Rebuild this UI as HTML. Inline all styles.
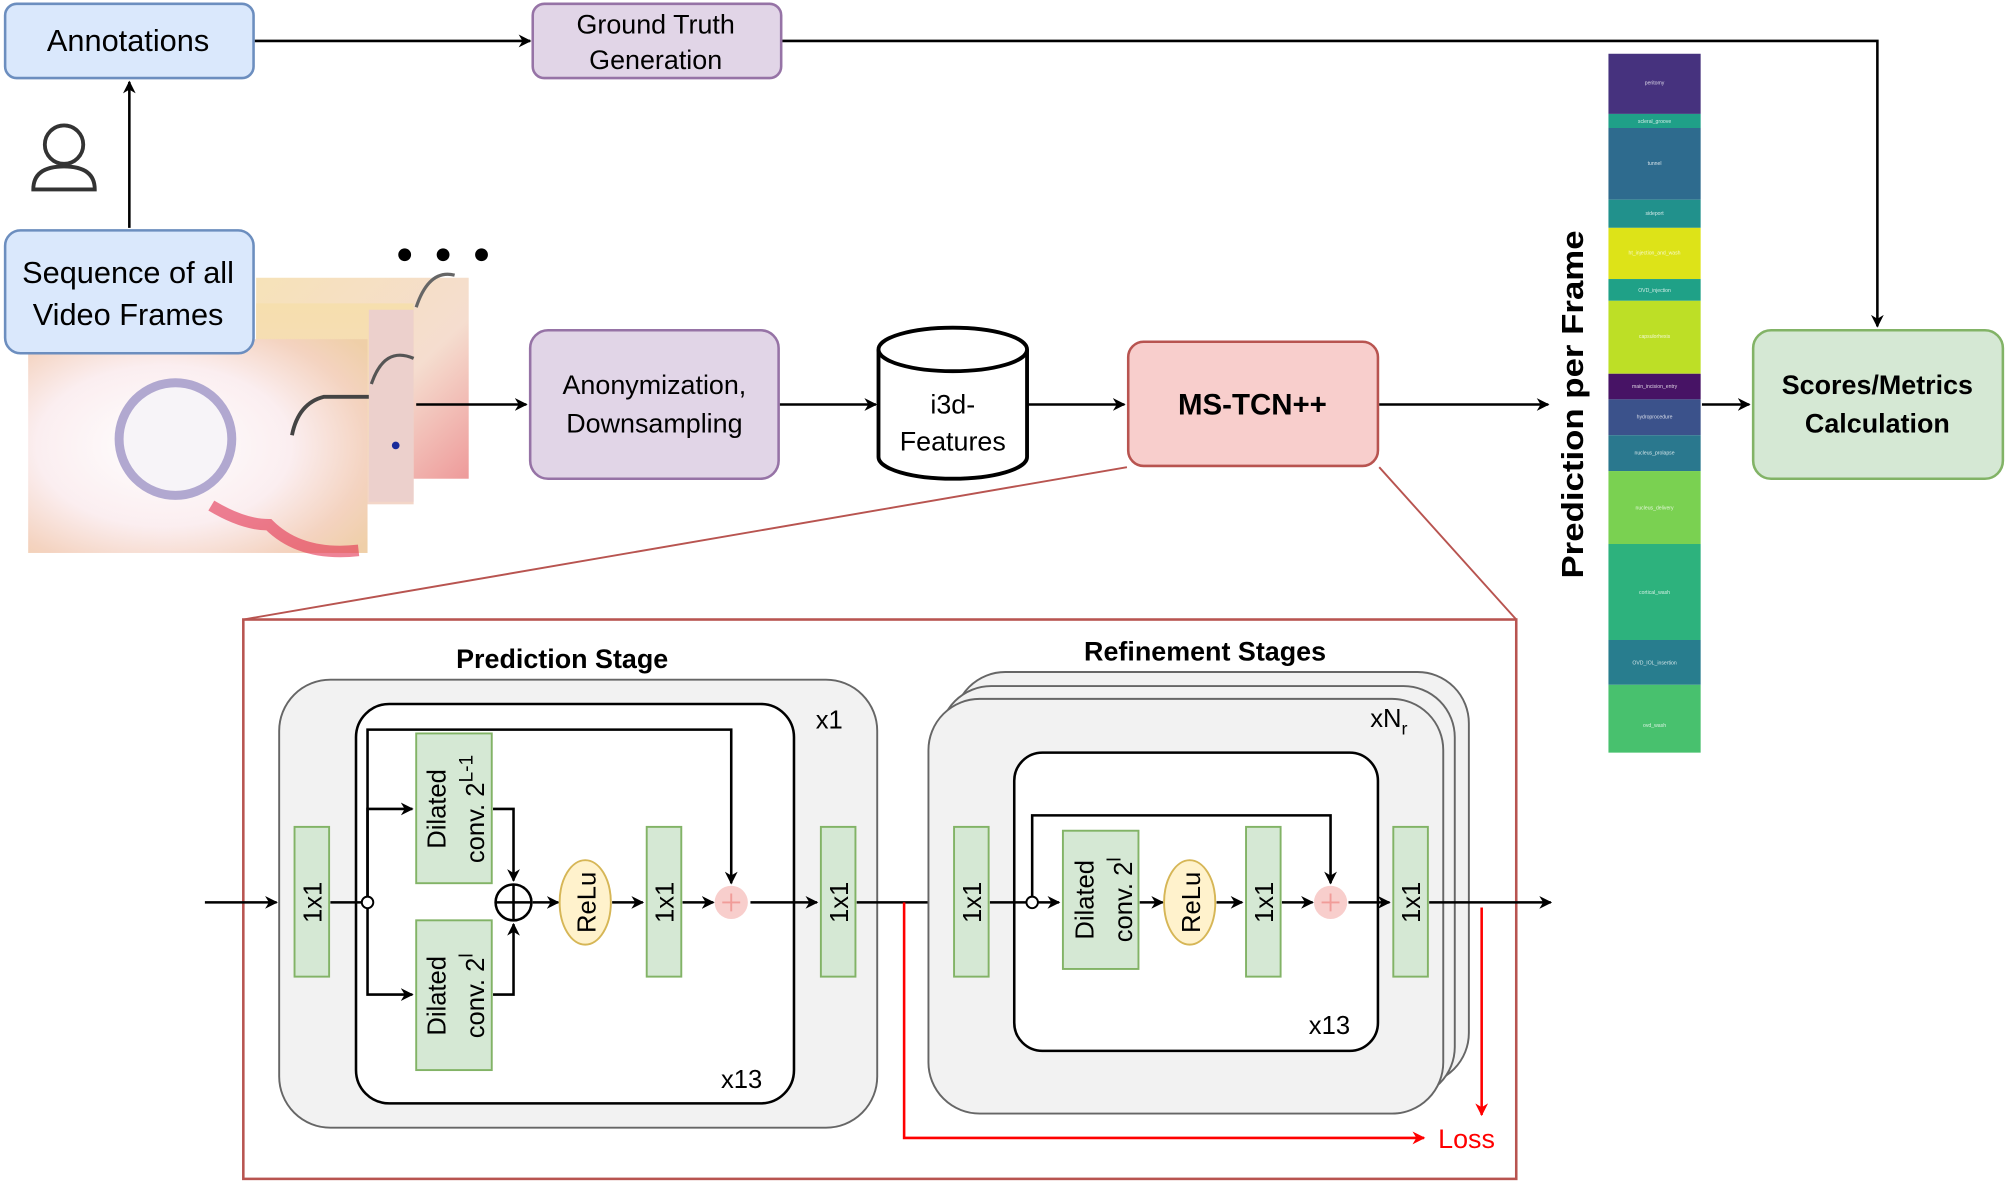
<!DOCTYPE html>
<html><head><meta charset="utf-8"><style>
html,body{margin:0;padding:0;background:#fff;}
svg{display:block;font-family:"Liberation Sans",Arial,sans-serif;}
</style></head><body>
<svg width="2008" height="1184" viewBox="0 0 1568 925" preserveAspectRatio="none" xmlns="http://www.w3.org/2000/svg">
<defs>
<marker id="a" markerWidth="10" markerHeight="10" refX="9" refY="5" orient="auto" markerUnits="userSpaceOnUse"><path d="M0,0 L10,5 L0,10 L3,5 z" fill="#000"/></marker>
<marker id="r" markerWidth="10" markerHeight="10" refX="9" refY="5" orient="auto" markerUnits="userSpaceOnUse"><path d="M0,0 L10,5 L0,10 L3,5 z" fill="#f00"/></marker>
<radialGradient id="eye" cx="0.4" cy="0.5" r="0.75"><stop offset="0" stop-color="#fff"/><stop offset="0.5" stop-color="#fbeef0"/><stop offset="0.8" stop-color="#f4d3c0"/><stop offset="1" stop-color="#efcfa8"/></radialGradient>
<linearGradient id="fr" x1="0" y1="0" x2="1" y2="1"><stop offset="0" stop-color="#f6e2b8"/><stop offset="0.6" stop-color="#f5ddcf"/><stop offset="1" stop-color="#ee9a9a"/></linearGradient>
<linearGradient id="fr2" x1="0" y1="0" x2="0" y2="1"><stop offset="0" stop-color="#f6dfae"/><stop offset="1" stop-color="#f3d6c8"/></linearGradient>
</defs>

<rect x="4" y="3" width="194" height="58" rx="9" fill="#dae8fc" stroke="#6c8ebf" stroke-width="2"/>
<text x="100" y="40" font-size="24" text-anchor="middle">Annotations</text>
<rect x="416" y="3" width="194" height="58" rx="9" fill="#e1d5e7" stroke="#9673a6" stroke-width="2"/>
<text x="512" y="26" font-size="21" text-anchor="middle">Ground Truth</text>
<text x="512" y="54" font-size="21" text-anchor="middle">Generation</text>
<line x1="199" y1="32" x2="414" y2="32" stroke="#000" stroke-width="2" marker-end="url(#a)"/>
<polyline points="611,32 1466,32 1466,255" fill="none" stroke="#000" stroke-width="2" marker-end="url(#a)"/>

<circle cx="50" cy="113" r="15" fill="none" stroke="#333" stroke-width="3"/>
<path d="M26,148 Q26,130 50,130 Q74,130 74,148 Z" fill="none" stroke="#333" stroke-width="3"/>
<line x1="101" y1="178" x2="101" y2="64" stroke="#000" stroke-width="2" marker-end="url(#a)"/>

<rect x="200" y="217" width="166" height="157" fill="url(#fr)"/>
<path d="M325,240 q10,-30 30,-25" fill="none" stroke="#666" stroke-width="2.5"/>
<rect x="200" y="237" width="123" height="157" fill="url(#fr2)"/>
<rect x="288" y="242" width="35" height="150" fill="#ecd0cc"/>
<path d="M290,300 q10,-30 33,-20" fill="none" stroke="#555" stroke-width="2.5"/>
<circle cx="309" cy="348" r="3" fill="#1a2a9a"/>
<rect x="22" y="265" width="265" height="167" fill="url(#eye)"/>
<circle cx="137" cy="343" r="44" fill="#f7f4f8" stroke="#b1a8d0" stroke-width="7"/>
<path d="M165,395 q25,15 45,15 q25,25 70,20" fill="none" stroke="#e23050" stroke-width="9" opacity="0.6"/>
<path d="M228,340 q5,-25 25,-30 l35,0" fill="none" stroke="#444" stroke-width="3"/>
<circle cx="316" cy="199" r="5"/><circle cx="346" cy="199" r="5"/><circle cx="376" cy="199" r="5"/>
<rect x="4" y="180" width="194" height="96" rx="12" fill="#dae8fc" stroke="#6c8ebf" stroke-width="2"/>
<text x="100" y="221" font-size="24" text-anchor="middle">Sequence of all</text>
<text x="100" y="254" font-size="24" text-anchor="middle">Video Frames</text>
<line x1="325" y1="316" x2="411" y2="316" stroke="#000" stroke-width="2" marker-end="url(#a)"/>

<rect x="414" y="258" width="194" height="116" rx="14" fill="#e1d5e7" stroke="#9673a6" stroke-width="2"/>
<text x="511" y="308" font-size="21" text-anchor="middle">Anonymization,</text>
<text x="511" y="338" font-size="21" text-anchor="middle">Downsampling</text>
<line x1="609" y1="316" x2="684" y2="316" stroke="#000" stroke-width="2" marker-end="url(#a)"/>
<path d="M686,273 L686,357 A58,17 0 0 0 802,357 L802,273" fill="#fff" stroke="#000" stroke-width="3"/>
<ellipse cx="744" cy="273" rx="58" ry="17" fill="#fff" stroke="#000" stroke-width="3"/>
<text x="744" y="323" font-size="21" text-anchor="middle">i3d-</text>
<text x="744" y="352" font-size="21" text-anchor="middle">Features</text>
<line x1="803" y1="316" x2="878" y2="316" stroke="#000" stroke-width="2" marker-end="url(#a)"/>
<rect x="881" y="267" width="195" height="97" rx="12" fill="#f8cecc" stroke="#b85450" stroke-width="2"/>
<text x="978" y="324" font-size="23" font-weight="bold" text-anchor="middle">MS-TCN++</text>
<line x1="1077" y1="316" x2="1209" y2="316" stroke="#000" stroke-width="2" marker-end="url(#a)"/>
<text transform="translate(1236,316) rotate(-90)" font-size="24" font-weight="bold" text-anchor="middle" textLength="272" lengthAdjust="spacingAndGlyphs">Prediction per Frame</text>

<g>
<rect x="1256" y="42" width="72" height="47" fill="#46327e"/>
<rect x="1256" y="89" width="72" height="11" fill="#1fa088"/>
<rect x="1256" y="100" width="72" height="56" fill="#2e6b8e"/>
<rect x="1256" y="156" width="72" height="22" fill="#21918c"/>
<rect x="1256" y="178" width="72" height="40" fill="#dde318"/>
<rect x="1256" y="218" width="72" height="17" fill="#1fa187"/>
<rect x="1256" y="235" width="72" height="57" fill="#bddf26"/>
<rect x="1256" y="292" width="72" height="20" fill="#471365"/>
<rect x="1256" y="312" width="72" height="28" fill="#3b528b"/>
<rect x="1256" y="340" width="72" height="28" fill="#2a788e"/>
<rect x="1256" y="368" width="72" height="57" fill="#7ad151"/>
<rect x="1256" y="425" width="72" height="75" fill="#2db27d"/>
<rect x="1256" y="500" width="72" height="35" fill="#287d8e"/>
<rect x="1256" y="535" width="72" height="53" fill="#48c16e"/>
<g font-size="4" fill="#fff" text-anchor="middle" opacity="0.8">
<text x="1292" y="66">peritomy</text><text x="1292" y="96">scleral_groove</text><text x="1292" y="129">tunnel</text><text x="1292" y="168">sideport</text><text x="1292" y="199">ht_injection_and_wash</text><text x="1292" y="228">OVD_injection</text><text x="1292" y="264">capsulorhexis</text><text x="1292" y="303">main_incision_entry</text><text x="1292" y="327">hydroprocedure</text><text x="1292" y="355">nucleus_prolapse</text><text x="1292" y="398">nucleus_delivery</text><text x="1292" y="464">cortical_wash</text><text x="1292" y="519">OVD_IOL_insertion</text><text x="1292" y="568">ovd_wash</text>
</g></g>
<line x1="1329" y1="316" x2="1366" y2="316" stroke="#000" stroke-width="2" marker-end="url(#a)"/>
<rect x="1369" y="258" width="195" height="116" rx="14" fill="#d5e8d4" stroke="#82b366" stroke-width="2"/>
<text x="1466" y="308" font-size="21" font-weight="bold" text-anchor="middle">Scores/Metrics</text>
<text x="1466" y="338" font-size="21" font-weight="bold" text-anchor="middle">Calculation</text>

<line x1="880" y1="365" x2="190" y2="484" stroke="#b85450" stroke-width="1.5"/>
<line x1="1077" y1="365" x2="1184" y2="484" stroke="#b85450" stroke-width="1.5"/>
<rect x="190" y="484" width="994" height="437" fill="none" stroke="#b85450" stroke-width="2"/>

<text x="439" y="522" font-size="21" font-weight="bold" text-anchor="middle">Prediction Stage</text>
<rect x="218" y="531" width="467" height="350" rx="40" fill="#f2f2f2" stroke="#666" stroke-width="1.5"/>
<text x="637" y="569" font-size="20">x1</text>
<rect x="278" y="550" width="342" height="312" rx="26" fill="#fff" stroke="#000" stroke-width="2"/>
<text x="563" y="850" font-size="20">x13</text>
<line x1="160" y1="705" x2="216" y2="705" stroke="#000" stroke-width="2" marker-end="url(#a)"/>
<g fill="#d5e8d4" stroke="#82b366" stroke-width="1.5">
<rect x="230" y="646" width="27" height="117"/>
<rect x="325" y="573" width="59" height="117"/>
<rect x="325" y="719" width="59" height="117"/>
<rect x="505" y="646" width="27" height="117"/>
<rect x="641" y="646" width="27" height="117"/>
</g>
<g font-size="20" text-anchor="middle">
<text transform="translate(251,705) rotate(-90)">1x1</text>
<text transform="translate(526,705) rotate(-90)">1x1</text>
<text transform="translate(662,705) rotate(-90)">1x1</text>
<text transform="translate(348,632) rotate(-90)">Dilated</text>
<text transform="translate(378,632) rotate(-90)">conv. 2<tspan dy="-9" font-size="15">L-1</tspan></text>
<text transform="translate(348,778) rotate(-90)">Dilated</text>
<text transform="translate(378,778) rotate(-90)">conv. 2<tspan dy="-9" font-size="15">l</tspan></text>
</g>
<g stroke="#000" stroke-width="2" fill="none">
<line x1="258" y1="705" x2="283" y2="705"/>
<polyline points="287,701 287,570 571,570 571,690" marker-end="url(#a)"/>
<polyline points="287,705 287,632 322,632" marker-end="url(#a)"/>
<polyline points="287,705 287,777 322,777" marker-end="url(#a)"/>
<polyline points="385,632 401,632 401,688" marker-end="url(#a)"/>
<polyline points="385,777 401,777 401,722" marker-end="url(#a)"/>
<line x1="416" y1="705" x2="436" y2="705" marker-end="url(#a)"/>
<line x1="478" y1="705" x2="502" y2="705" marker-end="url(#a)"/>
<line x1="533" y1="705" x2="557" y2="705" marker-end="url(#a)"/>
<line x1="586" y1="705" x2="638" y2="705" marker-end="url(#a)"/>
<line x1="669" y1="705" x2="742" y2="705" marker-end="url(#a)"/>
</g>
<circle cx="287" cy="705" r="4.5" fill="#fff" stroke="#000" stroke-width="1.5"/>
<circle cx="401" cy="705" r="14" fill="#fff" stroke="#000" stroke-width="2"/>
<line x1="387" y1="705" x2="415" y2="705" stroke="#000" stroke-width="2"/><line x1="401" y1="691" x2="401" y2="719" stroke="#000" stroke-width="2"/>
<ellipse cx="457" cy="705" rx="20" ry="33" fill="#fff2cc" stroke="#d6b656" stroke-width="1.5"/>
<text transform="translate(465,705) rotate(-90)" font-size="20" text-anchor="middle">ReLu</text>
<circle cx="571" cy="705" r="13" fill="#f8cecc"/>
<path d="M564,705 h14 M571,698 v14" stroke="#f19c99" stroke-width="1.5"/>

<text x="941" y="516" font-size="21" font-weight="bold" text-anchor="middle">Refinement Stages</text>
<rect x="745" y="525" width="402" height="322" rx="40" fill="#f2f2f2" stroke="#666" stroke-width="1.5"/>
<rect x="734" y="536" width="402" height="322" rx="40" fill="#f2f2f2" stroke="#666" stroke-width="1.5"/>
<rect x="725" y="546" width="402" height="324" rx="40" fill="#f2f2f2" stroke="#666" stroke-width="1.5"/>
<text x="1070" y="568" font-size="20">xN<tspan dy="6" font-size="14">r</tspan></text>
<rect x="792" y="588" width="284" height="233" rx="22" fill="#fff" stroke="#000" stroke-width="2"/>
<text x="1022" y="808" font-size="20">x13</text>
<g fill="#d5e8d4" stroke="#82b366" stroke-width="1.5">
<rect x="745" y="646" width="27" height="117"/>
<rect x="830" y="649" width="59" height="108"/>
<rect x="973" y="646" width="27" height="117"/>
<rect x="1088" y="646" width="27" height="117"/>
</g>
<g font-size="20" text-anchor="middle">
<text transform="translate(766,705) rotate(-90)">1x1</text>
<text transform="translate(994,705) rotate(-90)">1x1</text>
<text transform="translate(1109,705) rotate(-90)">1x1</text>
<text transform="translate(854,703) rotate(-90)">Dilated</text>
<text transform="translate(884,703) rotate(-90)">conv. 2<tspan dy="-9" font-size="15">l</tspan></text>
</g>
<g stroke="#000" stroke-width="2" fill="none">
<line x1="773" y1="705" x2="802" y2="705"/>
<polyline points="806,701 806,637 1039,637 1039,690" marker-end="url(#a)"/>
<line x1="810" y1="705" x2="827" y2="705" marker-end="url(#a)"/>
<line x1="890" y1="705" x2="908" y2="705" marker-end="url(#a)"/>
<line x1="950" y1="705" x2="970" y2="705" marker-end="url(#a)"/>
<line x1="1001" y1="705" x2="1025" y2="705" marker-end="url(#a)"/>
<line x1="1053" y1="705" x2="1085" y2="705" marker-end="url(#a)"/>
<line x1="1116" y1="705" x2="1211" y2="705" marker-end="url(#a)"/>
</g>
<circle cx="806" cy="705" r="4.5" fill="#fff" stroke="#000" stroke-width="1.5"/>
<ellipse cx="929" cy="705" rx="20" ry="33" fill="#fff2cc" stroke="#d6b656" stroke-width="1.5"/>
<text transform="translate(937,705) rotate(-90)" font-size="20" text-anchor="middle">ReLu</text>
<circle cx="1039" cy="705" r="13" fill="#f8cecc"/>
<path d="M1032,705 h14 M1039,698 v14" stroke="#f19c99" stroke-width="1.5"/>

<polyline points="706,705 706,889 1112,889" fill="none" stroke="#f00" stroke-width="2" marker-end="url(#r)"/>
<line x1="1157" y1="709" x2="1157" y2="871" stroke="#f00" stroke-width="2" marker-end="url(#r)"/>
<text x="1123" y="897" font-size="21" fill="#f00">Loss</text>
</svg>
</body></html>
